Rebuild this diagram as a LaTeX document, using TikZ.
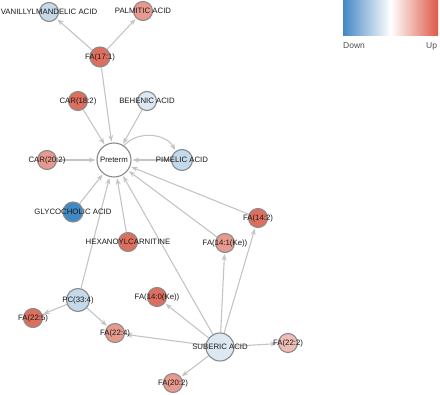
\documentclass[tikz,border=0pt]{standalone}
\usepackage{fontspec}
\setmainfont{Liberation Sans}
\usetikzlibrary{arrows.meta}
\pgfdeclarelayer{bg}
\pgfsetlayers{bg,main}
\definecolor{cRed}{HTML}{DE6F5E}
\definecolor{cSal}{HTML}{E99A8E}
\definecolor{cLsal}{HTML}{EFBDB4}
\definecolor{cLblue}{HTML}{C4DAEB}
\definecolor{cVlblue}{HTML}{DCE8F2}
\definecolor{cBlue}{HTML}{3F8AC4}
\definecolor{cStroke}{HTML}{8A8A8A}
\definecolor{cEdge}{HTML}{C4C4C4}
\definecolor{cTxt}{HTML}{1A1A1A}
\definecolor{lgBlue}{HTML}{4387C4}
\definecolor{lgRed}{HTML}{DE5A48}
\tikzset{
  mol/.style={circle,draw=cStroke,line width=1.1pt,inner sep=0pt,minimum size=19pt},
  lbl/.style={font=\fontsize{7.8}{9}\selectfont,text=cTxt,inner sep=0pt},
  edge/.style={draw=cEdge,line width=1.1pt,-{Stealth[length=6.5pt,width=5pt]},shorten >=1pt}
}
\begin{document}
\begin{tikzpicture}[x=1pt,y=-1pt]
\useasboundingbox (0,0) rectangle (440,395);
% legend
\shade[left color=lgBlue,right color=lgRed,middle color=white] (343,1) rectangle (438,36);
\node[font=\fontsize{8.5}{9}\selectfont,text=black!70,anchor=west,inner sep=0pt] (ldown) at (343,46) {Down};
\node[font=\fontsize{8.5}{9}\selectfont,text=black!70,anchor=west,inner sep=0pt] (lup) at (426,46) {Up};
% nodes
\node[mol,fill=white,minimum size=34pt] (pre) at (114,160) {};
\node[mol,fill=cLblue] (van) at (49,12) {};
\node[mol,fill=cSal] (pal) at (143,11) {};
\node[mol,fill=cRed,minimum size=20pt] (fa171) at (100,57) {};
\node[mol,fill=cRed] (car182) at (78,101) {};
\node[mol,fill=cVlblue] (beh) at (147,101) {};
\node[mol,fill=cSal] (car202) at (47,160) {};
\node[mol,fill=cLblue,minimum size=21pt] (pim) at (182,160) {};
\node[mol,fill=cBlue,minimum size=20pt] (gly) at (73,212) {};
\node[mol,fill=cRed] (hex) at (128,242) {};
\node[mol,fill=cSal] (fa141) at (225,243) {};
\node[mol,fill=cRed] (fa142) at (258,218) {};
\node[mol,fill=cLblue,minimum size=23pt] (pc) at (78,300) {};
\node[mol,fill=cRed] (fa225) at (33,318) {};
\node[mol,fill=cSal] (fa224) at (115,333) {};
\node[mol,fill=cRed] (fa140) at (157,297) {};
\node[mol,fill=cVlblue,minimum size=28pt] (sub) at (220,347) {};
\node[mol,fill=cLsal] (fa222) at (288,343) {};
\node[mol,fill=cSal] (fa202) at (173,383) {};
% labels
\node[lbl] (tpre) at (pre) {Preterm};
\node[lbl] (tvan) at (van) {VANILLYLMANDELIC ACID};
\node[lbl] (tpal) at (pal) {PALMITIC ACID};
\node[lbl] (tfa171) at (fa171) {FA(17:1)};
\node[lbl] (tcar182) at (car182) {CAR(18:2)};
\node[lbl] (tbeh) at (beh) {BEHENIC ACID};
\node[lbl] (tcar202) at (car202) {CAR(20:2)};
\node[lbl] (tpim) at (pim) {PIMELIC ACID};
\node[lbl] (tgly) at (gly) {GLYCOCHOLIC ACID};
\node[lbl] (thex) at (hex) {HEXANOYLCARNITINE};
\node[lbl] (tfa141) at (fa141) {FA(14:1(Ke))};
\node[lbl] (tfa142) at (fa142) {FA(14:2)};
\node[lbl] (tpc) at (pc) {PC(33:4)};
\node[lbl] (tfa225) at (fa225) {FA(22:5)};
\node[lbl] (tfa224) at (fa224) {FA(22:4)};
\node[lbl] (tfa140) at (fa140) {FA(14:0(Ke))};
\node[lbl] (tsub) at (sub) {SUBERIC ACID};
\node[lbl] (tfa222) at (fa222) {FA(22:2)};
\node[lbl] (tfa202) at (fa202) {FA(20:2)};
% edges
\begin{pgfonlayer}{bg}
\draw[edge] (fa171) -- (van);
\draw[edge] (fa171) -- (pal);
\draw[edge] (fa171) -- (pre);
\draw[edge] (car182) -- (pre);
\draw[edge] (beh) -- (pre);
\draw[edge] (car202) -- (pre);
\draw[edge] (pim) -- (pre);
\draw[edge] (pre) to[bend left=55] (pim);
\draw[edge] (gly) -- (pre);
\draw[edge] (hex) -- (pre);
\draw[edge] (fa141) -- (pre);
\draw[edge] (fa142) -- (pre);
\draw[edge] (sub) -- (pre);
\draw[edge] (pc) -- (pre);
\draw[edge] (pc) -- (fa225);
\draw[edge] (pc) -- (fa224);
\draw[edge] (sub) -- (fa224);
\draw[edge] (sub) -- (fa140);
\draw[edge] (sub) -- (fa141);
\draw[edge] (sub) -- (fa142);
\draw[edge] (sub) -- (fa222);
\draw[edge] (sub) -- (fa202);
\end{pgfonlayer}
\end{tikzpicture}
\end{document}
